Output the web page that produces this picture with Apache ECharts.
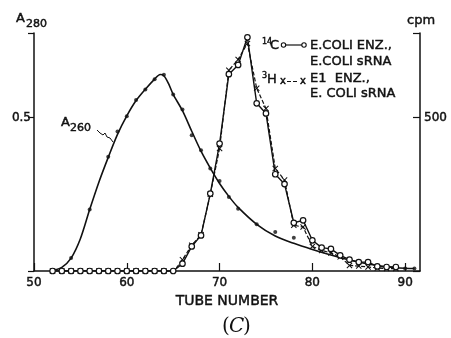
<!DOCTYPE html>
<html>
<head>
<meta charset="utf-8">
<script src="https://cdn.jsdelivr.net/npm/echarts@6/dist/echarts.min.js"></script>
<style>
  html, body { margin: 0; padding: 0; background: #fff; }
  #chart { width: 451px; height: 338px; }
</style>
</head>
<body>
<div id="chart"></div>
<script>
// A260 smooth fitted curve (tube, absorbance)
var a260Curve = [
  [51.8, 0], [52, 0.001], [53, 0.012], [54, 0.042], [55, 0.105], [56, 0.2], [57, 0.29],
  [58, 0.37], [59, 0.445], [60, 0.505], [61, 0.555], [62, 0.592], [63, 0.625],
  [63.6, 0.64], [64, 0.636], [64.5, 0.61], [65, 0.575], [66, 0.522], [67, 0.455],
  [68, 0.39], [69, 0.335], [70, 0.285], [71, 0.243], [72, 0.207], [74, 0.152],
  [76, 0.114], [78, 0.09], [80, 0.07], [82, 0.052], [84, 0.036], [86, 0.023],
  [88, 0.014], [90, 0.009], [91, 0.008]
];
// A260 measured dots
var a260Dots = [
  [52, 0.002], [54, 0.042], [56, 0.2], [58, 0.372], [59, 0.454], [60, 0.504],
  [61, 0.557], [62, 0.591], [63, 0.624], [64, 0.639], [65, 0.575], [66, 0.526],
  [67, 0.442], [68, 0.393], [69, 0.334], [70, 0.293], [71, 0.241], [72, 0.203],
  [74, 0.152], [76, 0.127], [78, 0.108], [89, 0.008], [90, 0.008], [91, 0.008]
];
// tubes for cpm series
var tubes = [52, 53, 54, 55, 56, 57, 58, 59, 60, 61, 62, 63, 64, 65, 66, 67, 68, 69, 70,
  71, 72, 73, 74, 75, 76, 77, 78, 79, 80, 81, 82, 83, 84, 85, 86, 87, 88, 89];
// 14C  E.COLI ENZ., E.COLI sRNA (cpm)
var c14 = [0, 0, 0, 0, 0, 0, 0, 0, 0, 0, 0, 0, 0, 0, 24, 80, 116, 252, 415,
  641, 671, 761, 546, 513, 315, 283, 157, 165, 100, 76, 72, 51, 37, 29, 29, 15, 13, 13];
// 3H  E1 ENZ., E.COLI sRNA (cpm)
var h3 = [0, 0, 0, 0, 0, 0, 0, 0, 0, 0, 0, 0, 0, -4, 37, 84, 118, 250, 399,
  654, 689, 741, 595, 529, 334, 296, 149, 143, 80, 67, 59, 46, 18, 16, 13, 10, 8, 8];

function pairs(xs, ys) {
  return xs.map(function (x, i) { return [x, ys[i]]; });
}

var chart = echarts.init(document.getElementById('chart'), null, { renderer: 'canvas' });
var FONT = '"DejaVu Sans", sans-serif';
var INK = '#111';
var xMark = 'path://M0,1.2L1.2,0L5,3.8L8.8,0L10,1.2L6.2,5L10,8.8L8.8,10L5,6.2L1.2,10L0,8.8L3.8,5Z';

// plain sans text, thickened a little with a thin stroke (lettering is medium weight)
function txt(s, x, y, size, align) {
  return {
    type: 'text', z: 100,
    style: {
      text: s, x: x, y: y, fill: INK, stroke: INK, lineWidth: 0.45,
      font: 'normal ' + size + 'px ' + FONT,
      textAlign: align || 'left', textVerticalAlign: 'middle'
    }
  };
}
var labelStyle = {
  color: INK, fontSize: 12, fontFamily: FONT,
  textBorderColor: INK, textBorderWidth: 0.45
};

var option = {
  backgroundColor: '#fff',
  animation: false,
  grid: { left: 34, right: 31, top: 33, bottom: 67 },
  xAxis: {
    type: 'value', min: 50, max: 91.6, interval: 10,
    name: 'TUBE NUMBER', nameLocation: 'middle', nameGap: 22,
    nameTextStyle: { color: INK, fontSize: 14, fontFamily: FONT, textBorderColor: INK, textBorderWidth: 0.45 },
    axisLine: { onZero: false, lineStyle: { color: INK, width: 1.5 } },
    axisTick: { inside: true, length: 8, lineStyle: { color: INK, width: 1.2 } },
    axisLabel: Object.assign({ margin: 6, showMaxLabel: false }, labelStyle),
    splitLine: { show: false }
  },
  yAxis: [{
    type: 'value', min: 0, max: 0.775, interval: 0.5,
    axisLine: { show: true, lineStyle: { color: INK, width: 1.5 } },
    axisTick: { show: true, length: 6, lineStyle: { color: INK, width: 1.2 } },
    axisLabel: Object.assign({
      margin: 3,
      formatter: function (v) { return v === 0.5 ? '0.5' : ''; }
    }, labelStyle),
    splitLine: { show: false }
  }, {
    type: 'value', min: 0, max: 775, interval: 500, position: 'right',
    axisLine: { show: true, lineStyle: { color: INK, width: 1.5 } },
    axisTick: { show: true, inside: true, length: 7, lineStyle: { color: INK, width: 1.2 } },
    axisLabel: Object.assign({
      margin: 4,
      formatter: function (v) { return v === 500 ? '500' : ''; }
    }, labelStyle),
    splitLine: { show: false }
  }],
  series: [{
    name: 'A260 curve', type: 'line', yAxisIndex: 0, data: a260Curve,
    smooth: 0.3, showSymbol: false, silent: true,
    lineStyle: { color: INK, width: 1.6 }
  }, {
    name: 'A260', type: 'scatter', yAxisIndex: 0, data: a260Dots,
    symbol: 'circle', symbolSize: 4, itemStyle: { color: INK }
  }, {
    name: '3H', type: 'line', yAxisIndex: 1, data: pairs(tubes, h3),
    symbol: xMark, symbolSize: 6,
    itemStyle: { color: INK },
    lineStyle: { color: INK, width: 1.2, type: [4, 2] }
  }, {
    name: '14C', type: 'line', yAxisIndex: 1, data: pairs(tubes, c14),
    symbol: 'circle', symbolSize: 5.5,
    itemStyle: { color: '#fff', borderColor: INK, borderWidth: 1.2 },
    lineStyle: { color: INK, width: 1.4 }
  }],
  graphic: [
    // axis titles
    txt('A', 16, 19, 13), txt('280', 26, 24, 11),
    txt('cpm', 407, 21, 13),
    // A260 annotation
    txt('A', 61, 123, 13), txt('260', 70, 128, 11),
    {
      type: 'polyline', z: 100,
      shape: { points: [[97, 130], [100, 133], [103, 135], [105, 133], [107, 137], [110, 138], [113, 142]] },
      style: { stroke: INK, lineWidth: 1, fill: null }
    },
    // legend
    txt('14', 262, 42, 8), txt('C', 270, 46, 13),
    { type: 'line', z: 100, shape: { x1: 285, y1: 45, x2: 302, y2: 45 }, style: { stroke: INK, lineWidth: 1.2 } },
    { type: 'circle', z: 101, shape: { cx: 283.5, cy: 45, r: 2.2 }, style: { fill: '#fff', stroke: INK, lineWidth: 1.1 } },
    { type: 'circle', z: 101, shape: { cx: 304, cy: 45, r: 2.2 }, style: { fill: '#fff', stroke: INK, lineWidth: 1.1 } },
    txt('E.COLI ENZ.,', 310, 46, 13),
    txt('E.COLI sRNA', 310, 62, 13),
    txt('3', 262, 76, 8), txt('H', 267, 80, 13),
    txt('x', 280, 81, 10),
    { type: 'line', z: 100, shape: { x1: 287, y1: 81.5, x2: 299, y2: 81.5 }, style: { stroke: INK, lineWidth: 1.1, lineDash: [4, 2] } },
    txt('x', 300, 81, 10),
    txt('E1  ENZ.,', 310, 79, 13),
    txt('E. COLI sRNA', 310, 94, 13),
    // panel label
    {
      type: 'text', z: 100,
      style: {
        text: '(', x: 222, y: 327, fill: INK,
        font: 'normal 20px "DejaVu Serif", serif', textAlign: 'left', textVerticalAlign: 'middle'
      }
    },
    {
      type: 'text', z: 100,
      style: {
        text: 'C', x: 229, y: 327, fill: INK,
        font: 'italic 20px "DejaVu Serif", serif', textAlign: 'left', textVerticalAlign: 'middle'
      }
    },
    {
      type: 'text', z: 100,
      style: {
        text: ')', x: 243, y: 327, fill: INK,
        font: 'normal 20px "DejaVu Serif", serif', textAlign: 'left', textVerticalAlign: 'middle'
      }
    }
  ]
};
chart.setOption(option);
</script>
</body>
</html>
